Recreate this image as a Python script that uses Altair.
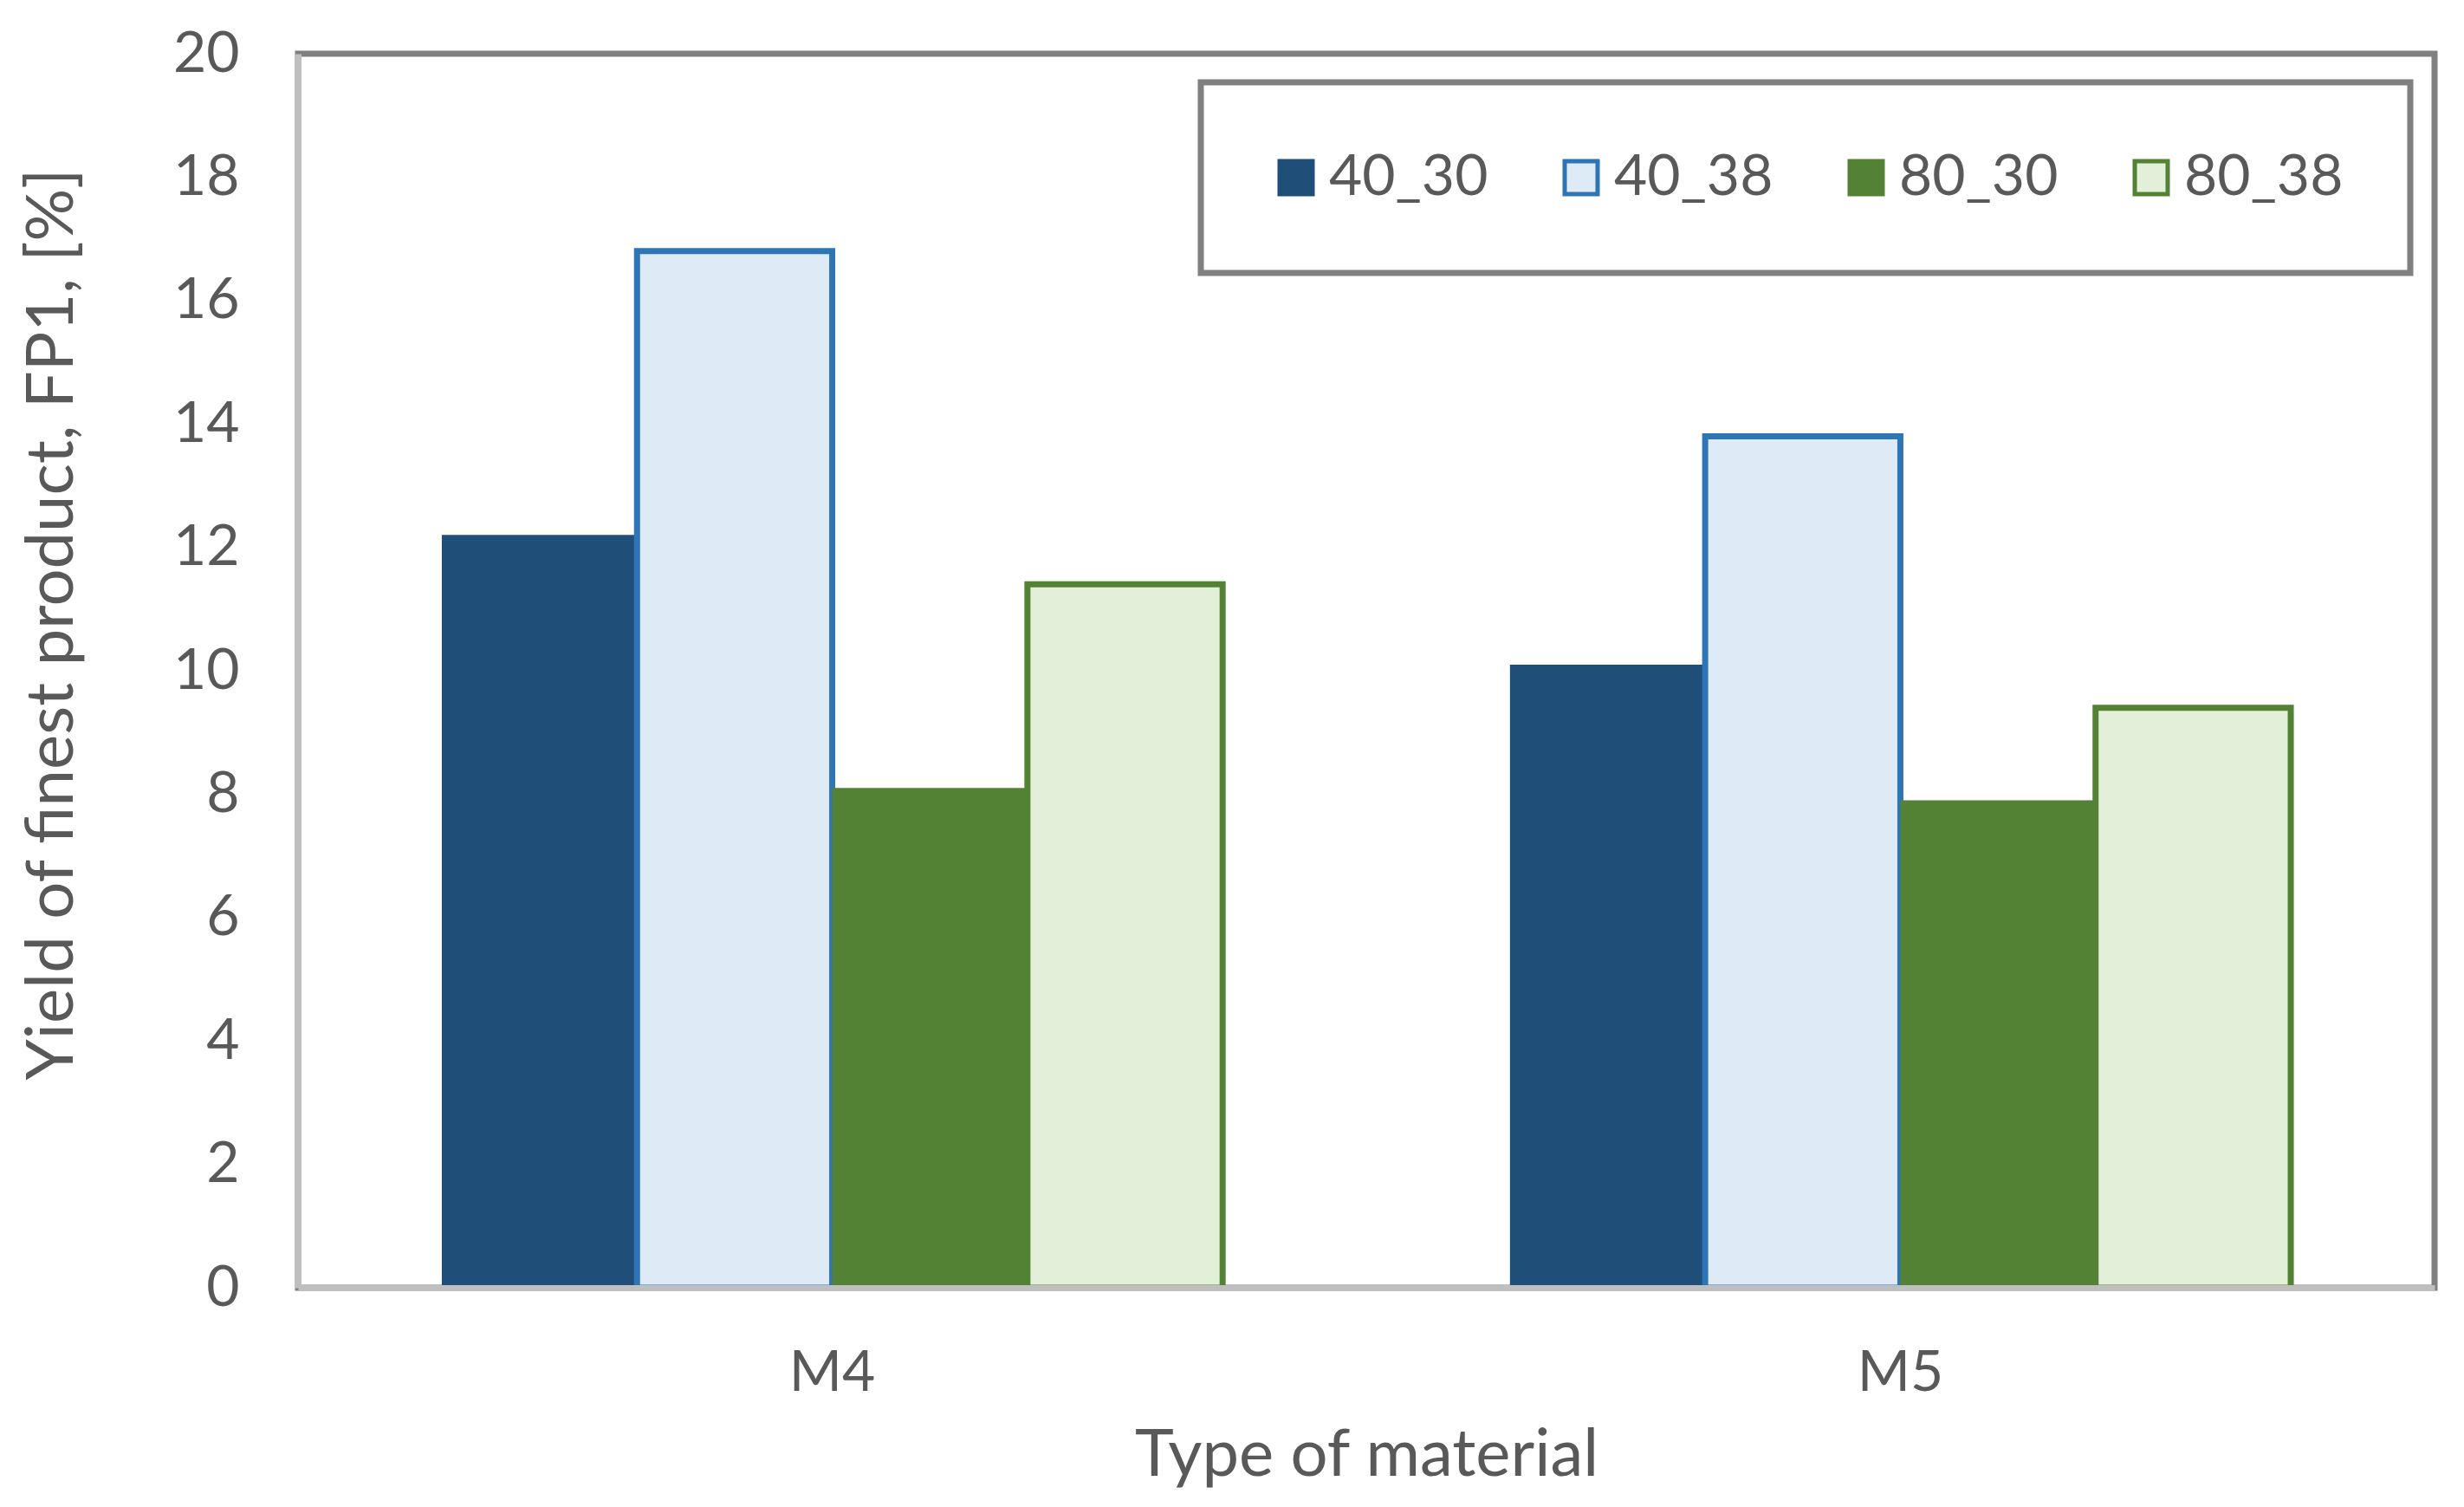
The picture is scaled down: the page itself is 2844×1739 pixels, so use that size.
import altair as alt
import pandas as pd

# ---- data ----
materials = ["M4", "M5"]
series = ["40_30", "40_38", "80_30", "80_38"]
v40_30 = [12.2, 10.1]
v40_38 = [16.8, 13.8]
v80_30 = [8.1, 7.9]
v80_38 = [11.4, 9.4]
y_ticks = [0, 2, 4, 6, 8, 10, 12, 14, 16, 18, 20]
outlined = ["40_38", "80_38"]

fills = ["#1F4E79", "#DEEBF7", "#548235", "#E2F0D9"]
strokes = ["#1F4E79", "#2E75B6", "#548235", "#548235"]

values = {"40_30": v40_30, "40_38": v40_38, "80_30": v80_30, "80_38": v80_38}
rows = []
for s in series:
    for m, v in zip(materials, values[s]):
        rows.append({"material": m, "series": s, "value": v})
df = pd.DataFrame(rows)

TXT = "#595959"
FONT = "Lato"

legend = alt.Legend(
    title=None,
    orient="none",
    legendX=1042,
    legendY=33,
    direction="horizontal",
    columns=4,
    symbolType="square",
    symbolSize=1444,
    symbolStrokeWidth=5,
    labelFontSize=66,
    labelFont=FONT,
    labelColor=TXT,
    labelOffset=5,
    labelLimit=400,
    columnPadding=74,
    padding=77,
    strokeColor="#808080",
    fillColor="white",
)

chart = (
    alt.Chart(df)
    .mark_bar()
    .encode(
        x=alt.X(
            "material:N",
            sort=materials,
            scale=alt.Scale(paddingInner=0.269, paddingOuter=0.1346),
            axis=alt.Axis(
                title="Type of material",
                labelAngle=0,
                ticks=False,
                labelPadding=66,
                labelFontSize=66,
                labelColor=TXT,
                domainColor="#BFBFBF",
                domainWidth=7,
                titleFontSize=76,
                titleColor=TXT,
                titleFontWeight="normal",
                titleBaseline="alphabetic",
                titleY=216,
                zindex=1,
            ),
        ),
        xOffset=alt.XOffset(
            "series:N", sort=series,
            scale=alt.Scale(domain=series, paddingInner=0, paddingOuter=0),
        ),
        y=alt.Y(
            "value:Q",
            scale=alt.Scale(domain=[0, 20], nice=False),
            axis=alt.Axis(
                title="Yield of finest product, FP1, [%]",
                values=y_ticks,
                format="d",
                grid=False,
                ticks=False,
                labelPadding=68,
                labelFontSize=66,
                labelColor=TXT,
                domainColor="#BFBFBF",
                domainWidth=7,
                titleFontSize=76,
                titleColor=TXT,
                titleFontWeight="normal",
                titleAngle=270,
                titleAlign="center",
                titleBaseline="alphabetic",
                titleX=-261,
                titleY=658,
                zindex=1,
            ),
        ),
        fill=alt.Fill("series:N", scale=alt.Scale(domain=series, range=fills), legend=legend),
        stroke=alt.Stroke("series:N", scale=alt.Scale(domain=series, range=strokes), legend=legend),
        strokeWidth=alt.condition(
            alt.FieldOneOfPredicate(field="series", oneOf=outlined),
            alt.value(7),
            alt.value(0),
        ),
    )
    .properties(
        width=2466,
        height=1424,
        autosize=alt.AutoSizeParams(type="none"),
        padding={"left": 336, "top": 54, "right": 10, "bottom": 240},
    )
    .configure(font=FONT)
    .configure_view(stroke="#808080", strokeWidth=7)
    .configure_legend(strokeWidth=7)
)

chart.save("out.html", embed_options={"renderer": "svg", "actions": False})
